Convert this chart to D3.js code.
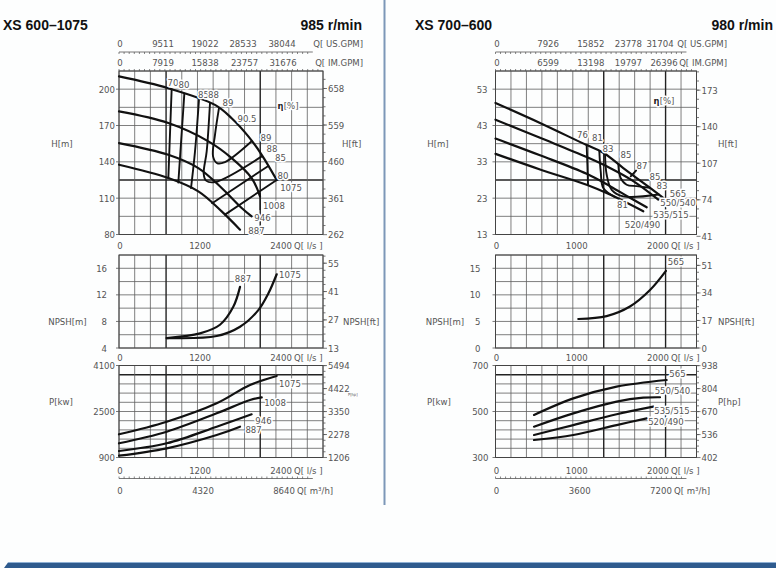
<!DOCTYPE html>
<html>
<head>
<meta charset="utf-8">
<script src="https://cdn.jsdelivr.net/npm/d3@7"></script>
<style>
  body { margin: 0; background: #fff; }
  svg { display: block; }
  text { font-family: "DejaVu Sans Condensed", "Liberation Sans Narrow", "DejaVu Sans", sans-serif; font-stretch: condensed; fill: #555; font-size: 9.5px; }
  .title { font-family: "Liberation Sans", Arial, sans-serif; font-stretch: normal; font-weight: bold; font-size: 14px; fill: #111; }
  .lab { paint-order: stroke; stroke: #fff; stroke-width: 3px; stroke-linejoin: round; }
</style>
</head>
<body>
<div id="chart"></div>
<script>
// unit conversions for the secondary axes
var M_TO_FT = 3.2808, KW_TO_HP = 1.341, LS_TO_US = 15.852, LS_TO_IM = 13.198, LS_TO_M3H = 3.6;

// ---------- XS 600-1075 (left sheet) ----------
var leftQTicks = [0, 1200, 2400];
var leftUsGpm = [0, 9511, 19022, 28533, 38044];
var leftImGpm = [0, 7919, 15838, 23757, 31676];
var leftM3h = [0, 4320, 8640];
var leftHTicks = [80, 110, 140, 170, 200];
var leftHftTicks = [262, 361, 460, 559, 658];
var leftNpshTicks = [4, 8, 12, 16];
var leftNpshFtTicks = [13, 27, 41, 55];
var leftPTicks = [900, 2500, 4100];
var leftPhpTicks = [1206, 2278, 3350, 4422, 5494];

var leftDiameters = ["1075", "1008", "946", "887"];
// head [Q l/s, H m]
var leftHead = [
  [[0, 210.5], [730, 200.8], [1422, 187], [1669, 176], [1916, 161], [2114, 145.8], [2336, 125]],
  [[0, 181.6], [731, 172], [1324, 156.9], [1669, 143.1], [1965, 126.6], [2089, 111.5]],
  [[0, 155.5], [731, 145.8], [1175, 134.8], [1521, 118.4], [1817, 101.9], [1965, 95]],
  [[0, 137.6], [731, 126.6], [1175, 115.6], [1521, 99.1], [1793, 84]]
];
// iso-efficiency lines [Q, H]
var leftEff = [
  [[780, 200], [731, 126.6]],
  [[968, 196.3], [879, 122.9]],
  [[1185, 191.5], [1126, 148.6], [1067, 118.4]],
  [[1348, 188.4], [1299, 148.6], [1255, 130], [1290, 124.5], [1422, 123.3], [2114, 144.5]],
  [[1481, 184.4], [1422, 162.3], [1393, 144.5], [1452, 139], [1570, 139.8], [1965, 157]],
  [[2212, 136.6], [1380, 105.8]],
  [[2336, 125], [1570, 96.4]]
];
var leftHLabels = [
  ["70", 800, 205.9], ["80", 963, 203.5], ["85", 1252, 195.2], ["88", 1400, 195.2],
  ["89", 1615, 188.6], ["90.5", 1896, 175.4], ["89", 2178, 159.7], ["88", 2267, 150.6],
  ["85", 2393, 143.2], ["80", 2430, 129.1], ["1075", 2548, 119.2], ["1008", 2296, 104],
  ["946", 2126, 94], ["887", 2037, 83.3]
];
var leftHLeaders = [[[2089, 114], [2089, 100.5]]];
var leftEtaPos = [2504, 186.9];
// NPSH [Q, m]
var leftNpshNames = ["887", "1075"];
var leftNpsh = [
  [[707, 5.5], [1200, 6.2], [1496, 7.5], [1693, 10.2], [1793, 13.2]],
  [[707, 5.5], [1447, 5.8], [1793, 7.2], [2064, 9.7], [2212, 12.2], [2336, 15.1]]
];
var leftNpshLabels = [["887", 1837, 14.5], ["1075", 2533, 15.0]];
// power [Q, kW]
var leftPower = [
  [[0, 1707], [707, 2145], [1447, 2785], [1941, 3422], [2336, 3735]],
  [[0, 1394], [707, 1797], [1447, 2437], [1941, 2900], [2114, 2994]],
  [[0, 1126], [707, 1394], [1447, 1971], [1965, 2403]],
  [[0, 963], [707, 1220], [1447, 1683], [1793, 1971]]
];
var leftPLabels = [["1075", 2533, 3460], ["1008", 2311, 2820], ["946", 2141, 2180], ["887", 1993, 1860]];

// ---------- XS 700-600 (right sheet) ----------
var rightQTicks = [0, 1000, 2000];
var rightUsGpm = [0, 7926, 15852, 23778, 31704];
var rightImGpm = [0, 6599, 13198, 19797, 26396];
var rightM3h = [0, 3600, 7200];
var rightHTicks = [13, 23, 33, 43, 53];
var rightHftTicks = [41, 74, 107, 140, 173];
var rightNpshTicks = [0, 5, 10, 15];
var rightNpshFtTicks = [0, 17, 34, 51];
var rightPTicks = [300, 500, 700];
var rightPhpTicks = [402, 536, 670, 804, 938];

var rightDiameters = ["565", "550/540", "535/515", "520/490"];
var rightHead = [
  [[0, 49.2], [548, 43.7], [1122, 37.6], [1327, 35.5], [1573, 31.3], [1819, 27.2], [2065, 23.1]],
  [[0, 44.6], [548, 39.6], [1122, 34.3], [1409, 31.3], [1696, 27.7], [2004, 22.6]],
  [[0, 39.4], [548, 34.8], [1122, 29.7], [1409, 26.3], [1655, 23.1], [1861, 20.5]],
  [[0, 35.2], [548, 30.9], [1122, 26.7], [1409, 24.0], [1819, 19.4]]
];
var rightEff = [
  [[1122, 37.6], [1131, 32.2], [1139, 26.7]],
  [[1278, 35.9], [1295, 30.4], [1327, 25.8], [1471, 23.3]],
  [[1348, 35.2], [1368, 29.5], [1430, 25.3], [1573, 23.5], [2010, 24.0]],
  [[1512, 32.3], [1540, 28.6], [1614, 26.7], [1738, 26.3], [1900, 25.85]],
  [[1664, 29.0], [1730, 30.6]]
];
var rightHLabels = [
  ["76", 1071, 40.5], ["81", 1255, 39.6], ["83", 1385, 36.8], ["85", 1606, 35.0],
  ["87", 1803, 31.9], ["85", 1963, 29.1], ["83", 2049, 26.6], ["81", 1563, 21.2],
  ["565", 2246, 24.4], ["550/540", 2246, 21.7], ["535/515", 2160, 18.5], ["520/490", 1809, 15.7]
];
var rightHLeaders = [];
var rightEtaPos = [2074, 50.1];
var rightNpsh = [
  [[1019, 5.46], [1368, 6.0], [1655, 7.8], [1902, 10.9], [2098, 14.5]]
];
var rightNpshLabels = [["565", 2222, 16.2]];
var rightPower = [
  [[474, 485], [958, 557], [1491, 608], [2107, 637]],
  [[474, 434], [958, 492], [1491, 543], [1819, 560], [2025, 562]],
  [[474, 398], [958, 441], [1491, 488], [1942, 521]],
  [[474, 376], [958, 398], [1491, 441], [1861, 470]]
];
var rightPLabels = [["565", 2240, 666], ["550/540", 2178, 593], ["535/515", 2172, 506], ["520/490", 2098, 456]];

var panels = [
  { title: "XS 600–1075", speed: "985 r/min", titleX: 3, speedX: 362,
    x0: 119, x1: 323, qMax: 3022, thickCols: [3, 9], unitRight: 363,
    usDx: [1, 3.5, 5, 2.5, 1], imDx: [1, 3.5, 5, 4, 2],
    qTicks: leftQTicks, usGpm: leftUsGpm, imGpm: leftImGpm, m3h: leftM3h,
    hDomain: [80, 215], hStep: 15, hTicks: leftHTicks, hAlt: leftHftTicks,
    nDomain: [4, 18], nStep: 2, nTicks: leftNpshTicks, nAlt: leftNpshFtTicks,
    pDomain: [900, 4100], pStep: 320, pTicks: leftPTicks, pAlt: leftPhpTicks,
    labDx: [4, 12, 4], leftTitleX: [62, 67.5, 61], rightTitleX: 342, hpTiny: true,
    head: leftHead, eff: leftEff, hLabels: leftHLabels, leaders: leftHLeaders, eta: leftEtaPos,
    npsh: leftNpsh, nLabels: leftNpshLabels, power: leftPower, pLabels: leftPLabels },
  { title: "XS 700–600", speed: "980 r/min", titleX: 415, speedX: 773,
    x0: 495.5, x1: 696.5, qMax: 2474, thickCols: [7, 11], unitRight: 727,
    usDx: [1.5, 12, 14, 11, 2], imDx: [1.5, 12, 14, 11, 6],
    qTicks: rightQTicks, usGpm: rightUsGpm, imGpm: rightImGpm, m3h: rightM3h,
    hDomain: [13, 58], hStep: 5, hTicks: rightHTicks, hAlt: rightHftTicks,
    nDomain: [0, 17.5], nStep: 2.5, nTicks: rightNpshTicks, nAlt: rightNpshFtTicks,
    pDomain: [300, 700], pStep: 40, pTicks: rightPTicks, pAlt: rightPhpTicks,
    labDx: [8, 15, 7], leftTitleX: [438, 445, 439], rightTitleX: 718, hpTiny: false,
    head: rightHead, eff: rightEff, hLabels: rightHLabels, leaders: rightHLeaders, eta: rightEtaPos,
    npsh: rightNpsh, nLabels: rightNpshLabels, power: rightPower, pLabels: rightPLabels }
];

var svg = d3.select("#chart").append("svg")
  .attr("width", 776)
  .attr("height", 568);

svg.append("rect").attr("width", 776).attr("height", 568).attr("fill", "#fdfefe");

var smooth = d3.line()
  .curve(d3.curveCatmullRom.alpha(0.5));

// draw a grid with the outer frame
function grid(g, x, y, step, thickRows, thickCols) {
  var d = y.domain();
  var rows = d3.range(d[0], d[1] + step / 2, step);
  var cols = d3.range(14).map(function(i) { return i * x.domain()[1] / 13; });
  g.selectAll(null).data(rows).join("line")
    .attr("x1", x.range()[0]).attr("x2", x.range()[1])
    .attr("y1", function(v) { return y(v); }).attr("y2", function(v) { return y(v); })
    .attr("stroke", function(v, i) { return thickRows.indexOf(i) >= 0 ? "#222" : "#5e5e5e"; })
    .attr("stroke-width", function(v, i) { return thickRows.indexOf(i) >= 0 ? 1.4 : 0.8; });
  g.selectAll(null).data(cols).join("line")
    .attr("x1", function(v) { return x(v); }).attr("x2", function(v) { return x(v); })
    .attr("y1", y.range()[0]).attr("y2", y.range()[1])
    .attr("stroke", function(v, i) { return thickCols.indexOf(i) >= 0 ? "#222" : "#5e5e5e"; })
    .attr("stroke-width", function(v, i) { return thickCols.indexOf(i) >= 0 ? 1.4 : 0.8; });
  g.append("rect")
    .attr("x", x.range()[0]).attr("y", y.range()[1])
    .attr("width", x.range()[1] - x.range()[0]).attr("height", y.range()[0] - y.range()[1])
    .attr("fill", "none").attr("stroke", "#444").attr("stroke-width", 1);
}

// row of flow labels in another unit
function qRow(g, x, vals, conv, yPos, dx, unit, unitX) {
  g.selectAll(null).data(vals).join("text")
    .attr("x", function(v, i) { return x(v / conv) + dx[i]; })
    .attr("y", yPos)
    .attr("text-anchor", "middle")
    .attr("dominant-baseline", "central")
    .text(function(v) { return v; });
  g.append("text")
    .attr("x", unitX).attr("y", yPos)
    .attr("text-anchor", "end")
    .attr("dominant-baseline", "central")
    .text(unit);
}

// thin flow line with small ticks
function flowLine(g, x, yPos, len) {
  var qEnd = x.domain()[1] * 0.95;
  g.append("line")
    .attr("x1", x(0)).attr("x2", x(qEnd))
    .attr("y1", yPos).attr("y2", yPos)
    .attr("stroke", "#555").attr("stroke-width", 0.8);
  g.selectAll(null).data(d3.range(0, qEnd, x.domain()[1] / 40)).join("line")
    .attr("x1", function(v) { return x(v); }).attr("x2", function(v) { return x(v); })
    .attr("y1", yPos).attr("y2", yPos + len)
    .attr("stroke", "#555").attr("stroke-width", 0.7);
}

function sideAxes(g, x, y, ticks, alt, conv, labDx, titleL, titleLX, titleR, titleRX, titleY) {
  var xl = x.range()[0], xr = x.range()[1];
  // left labels
  g.selectAll(null).data(ticks).join("text")
    .attr("x", xl - labDx).attr("y", function(v) { return y(v); })
    .attr("text-anchor", "end").attr("dominant-baseline", "central")
    .text(function(v) { return v; });
  g.selectAll(null).data(ticks).join("line")
    .attr("x1", xl - 3).attr("x2", xl)
    .attr("y1", function(v) { return y(v); }).attr("y2", function(v) { return y(v); })
    .attr("stroke", "#555").attr("stroke-width", 0.8);
  // right labels in the other unit
  var st = (alt[1] - alt[0]) / 4;
  var lo = y.domain()[0] * conv, hi = y.domain()[1] * conv;
  var minor = d3.range(alt[0] - st * Math.floor((alt[0] - lo) / st), hi, st);
  g.selectAll(null).data(minor).join("line")
    .attr("x1", xr).attr("x2", xr + 2.5)
    .attr("y1", function(v) { return y(v / conv); }).attr("y2", function(v) { return y(v / conv); })
    .attr("stroke", "#555").attr("stroke-width", 0.8);
  g.selectAll(null).data(alt).join("line")
    .attr("x1", xr).attr("x2", xr + 4)
    .attr("y1", function(v) { return y(v / conv); }).attr("y2", function(v) { return y(v / conv); })
    .attr("stroke", "#555").attr("stroke-width", 0.8);
  g.selectAll(null).data(alt).join("text")
    .attr("x", xr + 5).attr("y", function(v) { return y(v / conv); })
    .attr("dominant-baseline", "central")
    .text(function(v) { return v; });
  if (titleL) {
    g.append("text").attr("x", titleLX).attr("y", titleY)
      .attr("text-anchor", "middle").attr("dominant-baseline", "central").text(titleL);
  }
  if (titleR) {
    g.append("text").attr("x", titleRX).attr("y", titleY)
      .attr("dominant-baseline", "central").text(titleR);
  }
}

function curves(g, x, y, series, width) {
  g.selectAll(null).data(series).join("path")
    .attr("d", function(d) { return smooth(d.map(function(p) { return [x(p[0]), y(p[1])]; })); })
    .attr("fill", "none").attr("stroke", "#111")
    .attr("stroke-width", width).attr("stroke-linecap", "round").attr("stroke-linejoin", "round");
}

function labels(g, x, y, list) {
  g.selectAll(null).data(list).join("text")
    .attr("class", "lab")
    .attr("x", function(d) { return x(d[1]); })
    .attr("y", function(d) { return y(d[2]); })
    .attr("text-anchor", "middle").attr("dominant-baseline", "central")
    .text(function(d) { return d[0]; });
}

function qAxisRow(g, x, ticks, yPos, unitDx) {
  g.selectAll(null).data(ticks).join("text")
    .attr("x", function(v) { return x(v) + (v === 0 ? 1 : 0); })
    .attr("y", yPos).attr("text-anchor", "middle").attr("dominant-baseline", "central")
    .text(function(v) { return v; });
  g.append("text")
    .attr("x", x(ticks[ticks.length - 1]) + unitDx).attr("y", yPos)
    .attr("dominant-baseline", "central")
    .text("Q[ l/s ]");
}

function drawPanel(p) {
  var x = d3.scaleLinear().domain([0, p.qMax]).range([p.x0, p.x1]);
  var yH = d3.scaleLinear().domain(p.hDomain).range([234.5, 71]);
  var yN = d3.scaleLinear().domain(p.nDomain).range([348, 255]);
  var yP = d3.scaleLinear().domain(p.pDomain).range([457.5, 365.5]);
  var g = svg.append("g");

  // titles
  g.append("text").attr("class", "title").attr("x", p.titleX).attr("y", 25)
    .attr("dominant-baseline", "central").text(p.title);
  g.append("text").attr("class", "title").attr("x", p.speedX).attr("y", 25)
    .attr("text-anchor", "end").attr("dominant-baseline", "central").text(p.speed);

  // flow scales on top
  qRow(g, x, p.usGpm, LS_TO_US, 43, p.usDx, "Q[ US.GPM]", p.unitRight);
  flowLine(g, x, 52, 2);
  qRow(g, x, p.imGpm, LS_TO_IM, 62, p.imDx, "Q[ IM.GPM]", p.unitRight);
  g.selectAll(null).data(d3.range(0, p.qMax, p.qMax / 40)).join("line")
    .attr("x1", function(v) { return x(v); }).attr("x2", function(v) { return x(v); })
    .attr("y1", 69).attr("y2", 71).attr("stroke", "#555").attr("stroke-width", 0.7);

  // head chart
  grid(g, x, yH, p.hStep, [3], p.thickCols);
  sideAxes(g, x, yH, p.hTicks, p.hAlt, M_TO_FT, p.labDx[0], "H[m]", p.leftTitleX[0], "H[ft]", p.rightTitleX, 143);
  curves(g, x, yH, p.head, 2.2);
  curves(g, x, yH, p.eff, 1.9);
  curves(g, x, yH, p.leaders, 1);
  labels(g, x, yH, p.hLabels);
  var eta = g.append("text").attr("class", "lab")
    .attr("x", x(p.eta[0])).attr("y", yH(p.eta[1]))
    .attr("text-anchor", "middle").attr("dominant-baseline", "central");
  eta.append("tspan").style("font-weight", "bold").style("fill", "#222").text("η");
  eta.append("tspan").text("[%]");
  qAxisRow(g, x, p.qTicks, 245, 13);

  // NPSH chart
  grid(g, x, yN, p.nStep, [], p.thickCols);
  sideAxes(g, x, yN, p.nTicks, p.nAlt, M_TO_FT, p.labDx[1], "NPSH[m]", p.leftTitleX[1], "NPSH[ft]", p.rightTitleX + (p.hpTiny ? 1 : 0), 321.5);
  curves(g, x, yN, p.npsh, 2.2);
  labels(g, x, yN, p.nLabels);
  qAxisRow(g, x, p.qTicks, 357, 13);

  // power chart
  grid(g, x, yP, p.pStep, [9], p.thickCols);
  sideAxes(g, x, yP, p.pTicks, p.pAlt, KW_TO_HP, p.labDx[2], "P[kw]", p.leftTitleX[2], p.hpTiny ? null : "P[hp]", p.rightTitleX, 401.5);
  if (p.hpTiny) {
    g.append("text").attr("x", p.x1 + 25).attr("y", 396).style("font-size", "4px").text("P[hp]");
  }
  curves(g, x, yP, p.power, 2.2);
  labels(g, x, yP, p.pLabels);

  // bottom flow scales
  qAxisRow(g, x, p.qTicks, 470, 13);
  flowLine(g, x, 478.5, -2);
  g.selectAll(null).data(p.m3h).join("text")
    .attr("x", function(v) { return x(v / LS_TO_M3H) + (v === 0 ? 1 : 3); })
    .attr("y", 490).attr("text-anchor", "middle").attr("dominant-baseline", "central")
    .text(function(v) { return v; });
  g.append("text")
    .attr("x", x(p.m3h[p.m3h.length - 1] / LS_TO_M3H) + 16).attr("y", 490)
    .attr("dominant-baseline", "central")
    .text("Q[ m³/h]");
}

panels.forEach(drawPanel);

// divider between the two sheets
svg.append("line")
  .attr("x1", 384.5).attr("x2", 384.5).attr("y1", 0).attr("y2", 505)
  .attr("stroke", "#7d97b8").attr("stroke-width", 2);

// blue band at the bottom
svg.append("path")
  .attr("d", "M4,568 L8,562.5 L776,562.5 L776,568 Z")
  .attr("fill", "#2f5b8e");
svg.append("line")
  .attr("x1", 8).attr("x2", 776).attr("y1", 562.5).attr("y2", 562.5)
  .attr("stroke", "#8fb0d4").attr("stroke-width", 1);
</script>
</body>
</html>
